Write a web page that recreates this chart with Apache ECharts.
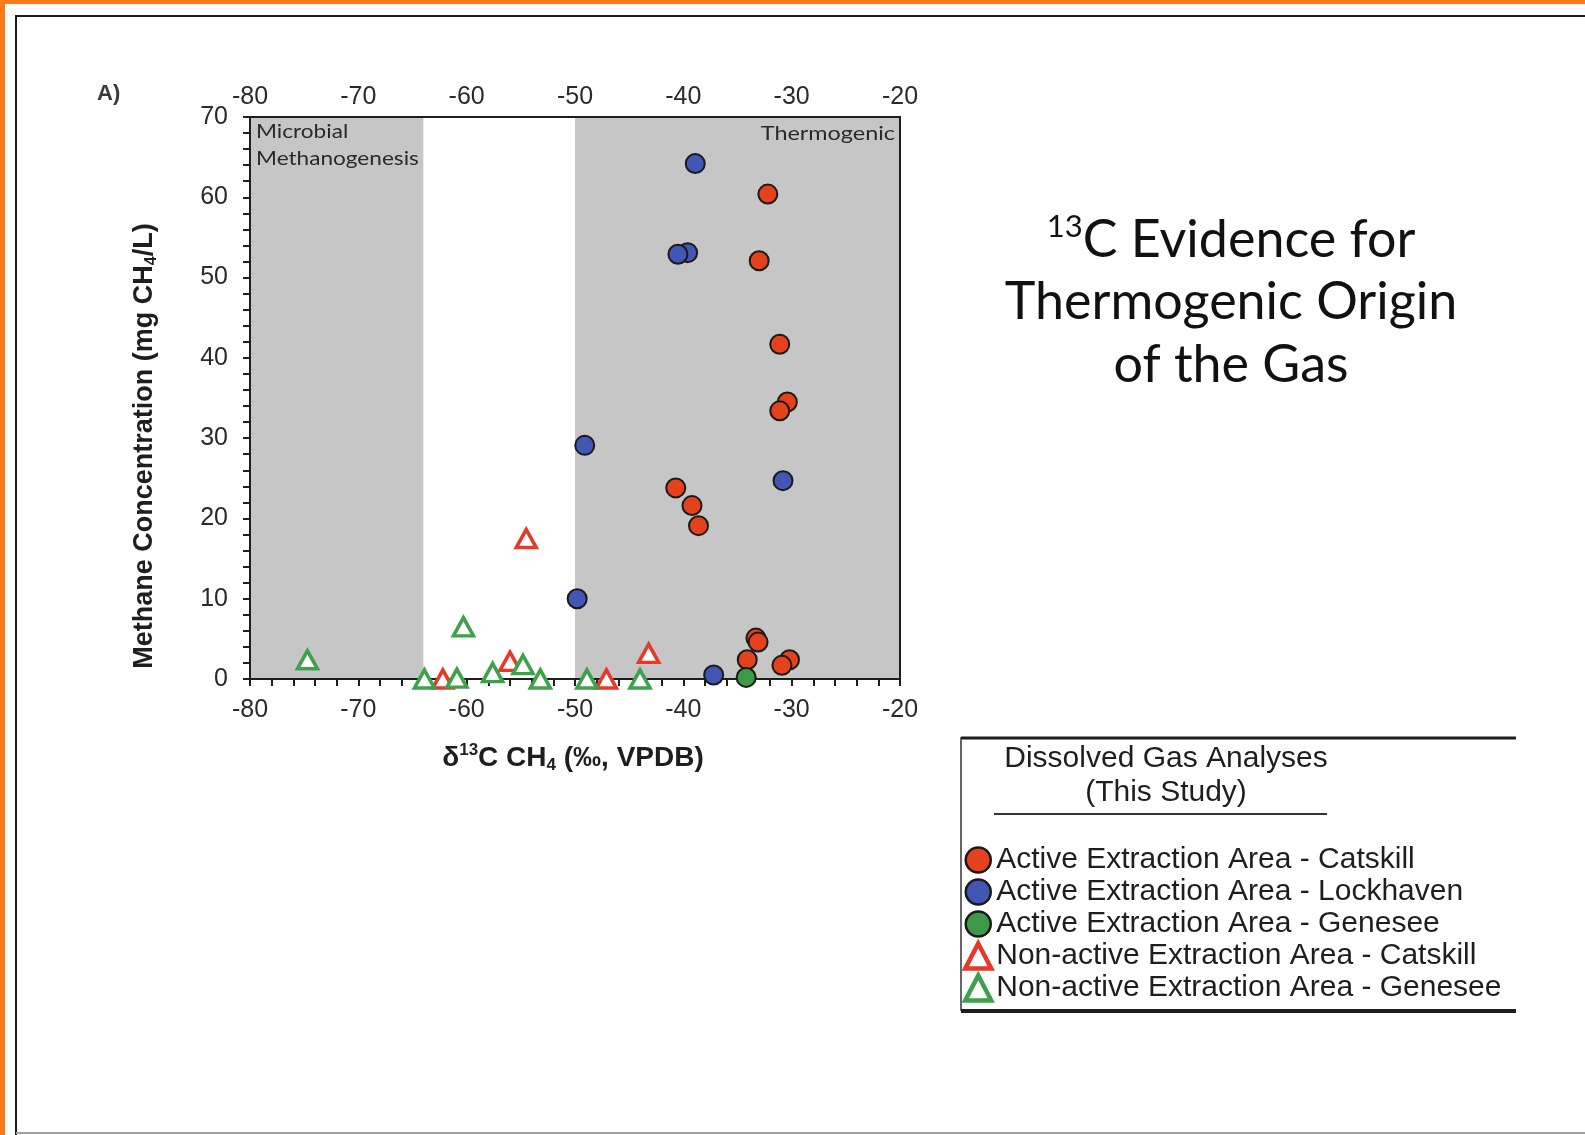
<!DOCTYPE html>
<html>
<head>
<meta charset="utf-8">
<script src="https://cdn.jsdelivr.net/npm/echarts@6/dist/echarts.min.js"></script>
<style>
  html, body { margin: 0; padding: 0; background: #ffffff; }
  #chart { width: 1585px; height: 1135px; }
</style>
</head>
<body>
<div id="chart"></div>
<script>
// δ13C of methane (‰, VPDB) vs dissolved methane (mg CH4/L), one pair of arrays per sample group
const activeCatskillX = [-32.2, -33.0, -31.1, -30.4, -31.1, -40.7, -39.2, -38.6, -33.3, -33.1, -34.1, -30.2, -30.9];
const activeCatskillY = [60.4, 52.1, 41.7, 34.5, 33.4, 23.8, 21.6, 19.1, 5.1, 4.6, 2.4, 2.4, 1.7];

const activeLockhavenX = [-38.9, -39.6, -40.5, -49.1, -30.8, -49.8, -37.2];
const activeLockhavenY = [64.2, 53.1, 52.9, 29.1, 24.7, 10.0, 0.5];

const activeGeneseeX = [-34.2];
const activeGeneseeY = [0.2];

const nonActiveCatskillX = [-54.5, -56.0, -43.2, -62.2, -47.1];
const nonActiveCatskillY = [17.5, 2.2, 3.2, 0, 0];

const nonActiveGeneseeX = [-74.7, -60.3, -57.6, -54.8, -63.9, -60.9, -53.2, -48.9, -44.0];
const nonActiveGeneseeY = [2.4, 6.5, 0.8, 1.8, 0, 0.1, 0, 0, 0];

// Isotopic source fields (δ13C ranges)
const microbialRange = [-80, -64];
const thermogenicRange = [-50, -20];

// Axis ranges and tick steps
const xRange = [-80, -20];
const yRange = [0, 70];
const xStep = 10;
const yStep = 10;

const seriesNames = [
  'Active Extraction Area - Catskill',
  'Active Extraction Area - Lockhaven',
  'Active Extraction Area - Genesee',
  'Non-active Extraction Area - Catskill',
  'Non-active Extraction Area - Genesee'
];

const zip = (xs, ys) => xs.map((x, i) => [x, ys[i]]);

const AXIS_COLOR = '#1e1e1e';
const LABEL_COLOR = '#2a2a2a';
const SANS = '"Liberation Sans", Arial, sans-serif';
const HUMANIST = 'Lato, "Open Sans", sans-serif';

function circleSeries(name, xs, ys, fill) {
  return {
    type: 'scatter', name, data: zip(xs, ys), z: 3,
    symbol: 'circle', symbolSize: 19,
    itemStyle: { color: fill, borderColor: '#1a1a1a', borderWidth: 2, opacity: 1 }
  };
}
function triangleSeries(name, xs, ys, stroke) {
  return {
    type: 'scatter', name, data: zip(xs, ys), z: 3,
    symbol: 'triangle', symbolSize: [20, 18],
    itemStyle: { color: '#ffffff', borderColor: stroke, borderWidth: 3.5, opacity: 1 }
  };
}

const tickLine = { color: AXIS_COLOR, width: 2 };
const tickLabel = { fontSize: 25, color: LABEL_COLOR, fontFamily: SANS };

const chart = echarts.init(document.getElementById('chart'), null, { renderer: 'canvas' });

chart.setOption({
  backgroundColor: '#ffffff',
  animation: false,
  grid: { left: 250, top: 117, width: 650, height: 562, containLabel: false, outerBoundsMode: 'none' },
  xAxis: [
    {
      type: 'value', position: 'bottom', min: xRange[0], max: xRange[1], interval: xStep, z: 1.5,
      axisLine: { onZero: false, lineStyle: tickLine },
      axisTick: { show: true, length: 7, lineStyle: tickLine },
      minorTick: { show: true, splitNumber: 5, length: 7, lineStyle: tickLine },
      axisLabel: Object.assign({ margin: 19 }, tickLabel),
      splitLine: { show: false }, minorSplitLine: { show: false }
    },
    {
      type: 'value', position: 'top', min: xRange[0], max: xRange[1], interval: xStep, z: 1.5,
      axisLine: { onZero: false, lineStyle: tickLine },
      axisTick: { show: false },
      axisLabel: Object.assign({ margin: 7 }, tickLabel),
      splitLine: { show: false }
    }
  ],
  yAxis: [
    {
      type: 'value', position: 'left', min: yRange[0], max: yRange[1], interval: yStep, z: 1.5,
      axisLine: { onZero: false, lineStyle: tickLine },
      axisTick: { show: true, length: 7, lineStyle: tickLine },
      minorTick: { show: true, splitNumber: 5, length: 7, lineStyle: tickLine },
      axisLabel: Object.assign({ margin: 22 }, tickLabel),
      splitLine: { show: false }, minorSplitLine: { show: false }
    },
    {
      type: 'value', position: 'right', min: yRange[0], max: yRange[1], interval: yStep, z: 1.5,
      axisLine: { onZero: false, lineStyle: tickLine },
      axisTick: { show: false }, axisLabel: { show: false }, splitLine: { show: false }
    }
  ],
  legend: {
    data: [
      { name: seriesNames[0], itemStyle: { borderWidth: 2.5 } },
      { name: seriesNames[1], itemStyle: { borderWidth: 2.5 } },
      { name: seriesNames[2], itemStyle: { borderWidth: 2.5 } },
      { name: seriesNames[3], itemStyle: { borderWidth: 4.5 } },
      { name: seriesNames[4], itemStyle: { borderWidth: 4.5 } }
    ],
    orient: 'vertical', left: 958, top: 840,
    itemWidth: 26, itemHeight: 25, itemGap: 2,
    selectedMode: false,
    textStyle: { fontSize: 30, lineHeight: 30, color: '#1e1e1e', fontFamily: SANS }
  },
  series: [
    {
      // shaded source fields
      type: 'scatter', data: [], silent: true, z: 1,
      markArea: {
        silent: true, z: 1,
        itemStyle: { color: '#c6c6c6' },
        data: [
          [{ xAxis: microbialRange[0] }, { xAxis: microbialRange[1] }],
          [{ xAxis: thermogenicRange[0] }, { xAxis: thermogenicRange[1] }]
        ]
      }
    },
    circleSeries(seriesNames[0], activeCatskillX, activeCatskillY, '#e5411d'),
    circleSeries(seriesNames[1], activeLockhavenX, activeLockhavenY, '#4256b6'),
    circleSeries(seriesNames[2], activeGeneseeX, activeGeneseeY, '#3c9a45'),
    triangleSeries(seriesNames[3], nonActiveCatskillX, nonActiveCatskillY, '#e53a2a'),
    triangleSeries(seriesNames[4], nonActiveGeneseeX, nonActiveGeneseeY, '#3da24b')
  ],
  graphic: [
    // page frame
    { type: 'rect', shape: { x: 0, y: 0, width: 1585, height: 4 }, style: { fill: '#fb7a1c' }, silent: true },
    { type: 'rect', shape: { x: 0, y: 0, width: 5, height: 1135 }, style: { fill: '#fb7a1c' }, silent: true },
    { type: 'line', shape: { x1: 15, y1: 16, x2: 1585, y2: 16 }, style: { stroke: '#1a1a1a', lineWidth: 2 }, silent: true },
    { type: 'line', shape: { x1: 16, y1: 15, x2: 16, y2: 1135 }, style: { stroke: '#1a1a1a', lineWidth: 2 }, silent: true },
    { type: 'line', shape: { x1: 16, y1: 1133, x2: 1585, y2: 1133 }, style: { stroke: '#a0a0a0', lineWidth: 2 }, silent: true },

    // panel tag
    { type: 'text', x: 97, y: 94, style: { text: 'A)', fontSize: 22, fontWeight: 'bold', fontFamily: SANS, fill: '#3a3a3a', verticalAlign: 'middle' }, silent: true },

    // field labels
    { type: 'text', x: 256, y: 118, z: 10, scaleX: 1.13, originX: 0, originY: 0, style: { text: 'Microbial\nMethanogenesis', fontSize: 20, lineHeight: 27, fontFamily: HUMANIST, fill: '#2a2a2a', verticalAlign: 'top' }, silent: true },
    { type: 'text', x: 895, y: 134, z: 10, scaleX: 1.17, originX: 0, originY: 0, style: { text: 'Thermogenic', fontSize: 20, fontFamily: HUMANIST, fill: '#2a2a2a', align: 'right', verticalAlign: 'middle' }, silent: true },

    // axis titles
    {
      type: 'text', x: 573, y: 758, silent: true,
      style: {
        text: '{b|δ}{s|13}{b|C CH}{u|4}{b| (‰, VPDB)}', align: 'center', verticalAlign: 'middle',
        rich: {
          b: { fontSize: 28, fontWeight: 'bold', fontFamily: SANS, fill: '#1e1e1e', lineHeight: 32 },
          s: { fontSize: 17, fontWeight: 'bold', fontFamily: SANS, fill: '#1e1e1e', lineHeight: 20, verticalAlign: 'top' },
          u: { fontSize: 17, fontWeight: 'bold', fontFamily: SANS, fill: '#1e1e1e', lineHeight: 20, verticalAlign: 'bottom' }
        }
      }
    },
    {
      type: 'text', x: 145, y: 446, rotation: Math.PI / 2, silent: true,
      style: {
        text: '{b|Methane Concentration (mg CH}{u|4}{b|/L)}', align: 'center', verticalAlign: 'middle',
        rich: {
          b: { fontSize: 27, fontWeight: 'bold', fontFamily: SANS, fill: '#1e1e1e', lineHeight: 30 },
          u: { fontSize: 16, fontWeight: 'bold', fontFamily: SANS, fill: '#1e1e1e', lineHeight: 18, verticalAlign: 'bottom' }
        }
      }
    },

    // headline
    {
      type: 'text', x: 1231, y: 240, silent: true,
      style: {
        text: '{s|13}{m|C Evidence for}', align: 'center', verticalAlign: 'middle',
        rich: {
          m: { fontSize: 52, fontFamily: HUMANIST, fill: '#111', lineHeight: 58 },
          s: { fontSize: 31, fontFamily: HUMANIST, fill: '#111', lineHeight: 36, verticalAlign: 'top' }
        }
      }
    },
    { type: 'text', x: 1231, y: 302, silent: true, style: { text: 'Thermogenic Origin', fontSize: 52, fontFamily: HUMANIST, fill: '#111', align: 'center', verticalAlign: 'middle' } },
    { type: 'text', x: 1231, y: 365, silent: true, style: { text: 'of the Gas', fontSize: 52, fontFamily: HUMANIST, fill: '#111', align: 'center', verticalAlign: 'middle' } },

    // legend box
    { type: 'line', shape: { x1: 961, y1: 738, x2: 1516, y2: 738 }, style: { stroke: '#1e1e1e', lineWidth: 3 }, silent: true },
    { type: 'line', shape: { x1: 961, y1: 737, x2: 961, y2: 1011 }, style: { stroke: '#333', lineWidth: 1.5 }, silent: true },
    { type: 'line', shape: { x1: 961, y1: 1011, x2: 1516, y2: 1011 }, style: { stroke: '#1e1e1e', lineWidth: 4 }, silent: true },
    { type: 'text', x: 1166, y: 759, silent: true, style: { text: 'Dissolved Gas Analyses', fontSize: 30, fontFamily: SANS, fill: '#1e1e1e', align: 'center', verticalAlign: 'middle' } },
    { type: 'text', x: 1166, y: 793, silent: true, style: { text: '(This Study)', fontSize: 30, fontFamily: SANS, fill: '#1e1e1e', align: 'center', verticalAlign: 'middle' } },
    { type: 'line', shape: { x1: 994, y1: 814, x2: 1327, y2: 814 }, style: { stroke: '#333', lineWidth: 2 }, silent: true }
  ]
});
</script>
</body>
</html>
